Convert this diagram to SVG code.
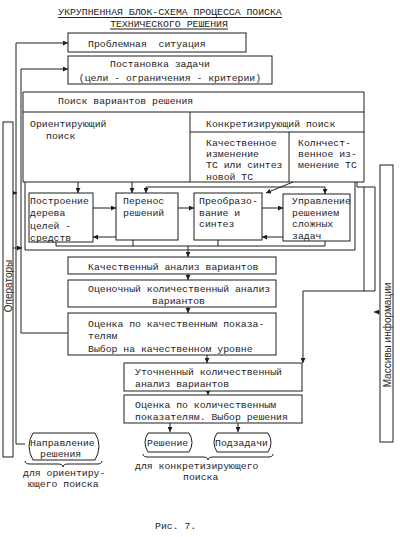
<svg xmlns="http://www.w3.org/2000/svg" width="400" height="537" viewBox="0 0 400 537">
<defs>
<style>
text{font-family:"Liberation Mono","DejaVu Sans Mono",monospace;font-size:9.8px;fill:#1e1e1e}
.side{font-family:"Liberation Sans","DejaVu Sans",sans-serif;font-size:10px}
.b{fill:#fff;stroke:#1e1e1e;stroke-width:1}
.l{fill:none;stroke:#1e1e1e;stroke-width:1}
.a{fill:none;stroke:#1e1e1e;stroke-width:1;marker-end:url(#ah)}
</style>
<marker id="ah" viewBox="0 0 6 6" refX="6" refY="3" markerWidth="5" markerHeight="5" orient="auto" markerUnits="userSpaceOnUse">
<path d="M0,0 L6,3 L0,6 Z" fill="#1e1e1e"/>
</marker>
</defs>
<rect width="400" height="537" fill="#fff"/>

<g id="title">
<text x="170" y="14.5" text-anchor="middle">УКРУПНЕННАЯ БЛОК-СХЕМА ПРОЦЕССА ПОИСКА</text>
<text x="169" y="26.5" text-anchor="middle">ТЕХНИЧЕСКОГО РЕШЕНИЯ</text>
<path class="l" d="M58,17.5 H282 M110,29 H228"/>
</g>

<g id="connectors">
<path class="a" d="M25,444 H16 V43 H68"/>
<path class="a" d="M68,333 H21 V69 H68"/>
<path class="a" d="M13,193 H17"/>
<path class="a" d="M13,248 H22"/>
<path class="a" d="M78,182 V193"/>
<path class="a" d="M132,182 V193"/>
<path class="l" d="M146,187 H325"/>
<path class="a" d="M146,187 V193"/>
<path class="a" d="M325,187 V194"/>
<path class="a" d="M293,182 L266,193"/>
<path class="a" d="M93,208 H116"/>
<path class="a" d="M116,237 H93"/>
<path class="a" d="M178,208 H194"/>
<path class="a" d="M262,208 H283"/>
<path class="a" d="M283,237 H262"/>
<path class="l" d="M56,242 V246 H325 V241 M133,240 V246 M218,240 V246"/>
<path class="a" d="M188,246 V257"/>
<path class="a" d="M188,274 V280"/>
<path class="a" d="M188,307 V313"/>
<path class="a" d="M207,355 V363"/>
<path class="a" d="M208,391 V395"/>
<path class="a" d="M170,423 V432"/>
<path class="a" d="M238,423 V432"/>
<path class="l" d="M357,182 V187 H375 V291 H303"/>
<path class="a" d="M303,291 V363"/>
<path class="a" d="M380,312 H374"/>
<path class="l" d="M364,187 V291"/>
</g>

<g id="operators">
<rect class="b" x="3" y="122" width="10" height="335"/>
<text class="side" transform="translate(11.5,286) rotate(-90)" text-anchor="middle">Операторы</text>
</g>

<g id="arrays">
<rect class="b" x="380" y="165" width="13" height="277"/>
<text class="side" transform="translate(390.5,335) rotate(-90)" text-anchor="middle">Массивы информации</text>
</g>

<g id="problem">
<rect class="b" x="68" y="33" width="178" height="19"/>
<text x="88" y="46.5" xml:space="preserve">Проблемная  ситуация</text>
</g>

<g id="task">
<rect class="b" x="68" y="56" width="204" height="28"/>
<text x="160" y="66.5" text-anchor="middle">Постановка задачи</text>
<text x="170" y="80.5" text-anchor="middle">(цели - ограничения - критерии)</text>
</g>

<g id="search">
<path class="l" d="M23,92 H364 V182 H23 Z M23,112 H364 M190,112 V182 M190,132 H364 M289,132 V182"/>
<path class="l" d="M25,182 V250 H355 V182"/>
<text x="58" y="103.5">Поиск вариантов решения</text>
<text x="30" y="126.5">Ориентирующий</text>
<text x="46" y="138.5">поиск</text>
<text x="206" y="126.5">Конкретизирующий поиск</text>
<text x="206" y="145.5">Качественное</text>
<text x="206" y="156.5">изменение</text>
<text x="206" y="167.5">ТС или синтез</text>
<text x="206" y="180">новой ТС</text>
<text x="298" y="145.5">Колнчест-</text>
<text x="298" y="156.5">венное из-</text>
<text x="298" y="167.5">менение ТС</text>
</g>

<g id="tree">
<rect class="b" x="29" y="193" width="64" height="49"/>
<text x="30" y="203.5">Построение</text>
<text x="30" y="216">дерева</text>
<text x="30" y="228.5">целей -</text>
<text x="30" y="240.5">средств</text>
</g>

<g id="transfer">
<rect class="b" x="116" y="193" width="62" height="47"/>
<text x="123" y="203.5">Перенос</text>
<text x="123" y="215.5">решений</text>
</g>

<g id="synthesis">
<rect class="b" x="194" y="193" width="68" height="47"/>
<text x="199" y="203.5">Преобразо-</text>
<text x="199" y="215.5">вание и</text>
<text x="199" y="227">синтез</text>
</g>

<g id="control">
<rect class="b" x="283" y="194" width="67" height="47"/>
<text x="292" y="203.5">Управление</text>
<text x="292" y="215.5">решением</text>
<text x="292" y="227">сложных</text>
<text x="292" y="239">задач</text>
</g>

<g id="qual-analysis">
<rect class="b" x="68" y="257" width="208" height="17"/>
<text x="88" y="269.5">Качественный анализ вариантов</text>
</g>

<g id="est-analysis">
<rect class="b" x="68" y="280" width="208" height="27"/>
<text x="88" y="291.5">Оценочный количественный анализ</text>
<text x="152" y="303.5">вариантов</text>
</g>

<g id="qual-eval">
<rect class="b" x="68" y="313" width="208" height="42"/>
<text x="88" y="326.5">Оценка по качественным показа-</text>
<text x="88" y="339">телям</text>
<text x="88" y="351.5">Выбор на качественном уровне</text>
</g>

<g id="refined">
<rect class="b" x="124" y="363" width="178" height="28"/>
<text x="135" y="374.5">Уточненный количественный</text>
<text x="135" y="386.5">анализ вариантов</text>
</g>

<g id="quant-eval">
<rect class="b" x="124" y="395" width="178" height="28"/>
<text x="135" y="408">Оценка по количественным</text>
<text x="135" y="420">показателям. Выбор решения</text>
</g>

<g id="direction">
<path class="b" d="M33,433 H95 Q103,446 95,460 H33 Q25,446 33,433 Z"/>
<text x="30" y="445.5">Направление</text>
<text x="40" y="457">решения</text>
<path class="l" d="M25,461 Q25,464 30,464 H58 Q63,464 63,467 Q63,464 68,464 H97 Q102,464 102,461"/>
<text x="23" y="476">для ориентиру-</text>
<text x="28" y="487">ющего поиска</text>
</g>

<g id="solution">
<path class="b" d="M148,433 H189 Q195,442.5 189,452 H148 Q142,442.5 148,433 Z"/>
<text x="147" y="445.5">Решение</text>
</g>

<g id="subtasks">
<path class="b" d="M217,433 H268 Q274,442.5 268,452 H217 Q211,442.5 217,433 Z"/>
<text x="215" y="445.5">Подзадачи</text>
</g>

<g id="concrete-label">
<path class="l" d="M143,454 Q143,457 148,457 H203 Q208,457 208,460 Q208,457 213,457 H268 Q273,457 273,454"/>
<text x="135" y="468.5">для конкретизирующего</text>
<text x="183" y="479.5">поиска</text>
</g>

<text x="155" y="528.5">Рис. 7.</text>
</svg>
